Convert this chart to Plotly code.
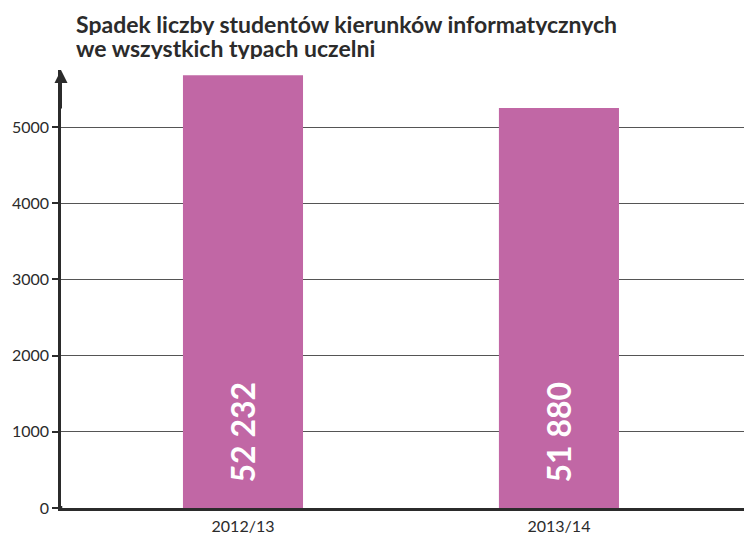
import plotly.graph_objects as go

# data
years = ["2012/13", "2013/14"]
bar_height = [5680, 5250]
bar_labels = ["52 232", "51 880"]
ytick_vals = [0, 1000, 2000, 3000, 4000, 5000]

title_lines = ["Spadek liczby studentów kierunków informatycznych", "we wszystkich typach uczelni"]
bar_col = "#C167A5"
ink = "#2b2b2b"

# page body adds an 8px margin, so the figure is 8px smaller than the window
fig = go.Figure()
fig.add_trace(go.Bar(x=years, y=bar_height, width=0.38,
                     marker=dict(color=bar_col, line=dict(width=0)),
                     hoverinfo="skip"))

# rotated white labels sitting near the bottom of each bar
for yr, lab in zip(years, bar_labels):
    fig.add_annotation(x=yr, y=0, xref="x", yref="y", text="<b>" + lab + "</b>",
                       textangle=-90, showarrow=False, xanchor="center", yanchor="bottom",
                       yshift=24, font=dict(family="Lato", size=32, color="white"))

# two title lines, tighter than plotly's own line spacing
for ty, line in zip([1.106, 1.052], title_lines):
    fig.add_annotation(x=0, y=ty, xref="paper", yref="paper", text="<b>" + line + "</b>",
                       showarrow=False, xanchor="left", yanchor="middle", xshift=14,
                       height=23, borderpad=0,
                       font=dict(family="Lato", size=23, color=ink))

# arrow on top of the y axis
fig.add_annotation(x=0, y=1, xref="paper", yref="paper", text="", showarrow=True,
                   ax=0, ay=40, axref="pixel", ayref="pixel", arrowhead=2, arrowsize=1.3,
                   arrowwidth=2, arrowcolor=ink)
# little stub of the y axis under the x axis
fig.add_shape(type="line", xref="paper", yref="y", x0=0, x1=0, y0=2, y1=-8,
              ysizemode="pixel", yanchor=0, line=dict(color=ink, width=2.5))

fig.update_layout(
    width=744, height=528,
    margin=dict(l=53, r=0, t=62, b=28),
    plot_bgcolor="white", paper_bgcolor="white",
    showlegend=False,
    font=dict(family="Lato", color=ink, size=16),
    xaxis=dict(range=[-0.576, 1.611], showline=True, linecolor=ink, linewidth=2.5,
               ticks="", showgrid=False, tickfont=dict(size=16, color=ink),
               ticklabelstandoff=2, automargin=False),
    yaxis=dict(range=[0, 5748], tickvals=ytick_vals, showgrid=True, gridcolor="#555555",
               gridwidth=1, showline=True, linecolor=ink, linewidth=2.5,
               ticks="outside", ticklen=6, tickwidth=1.5, tickcolor=ink,
               zeroline=False, tickfont=dict(size=16, color=ink), automargin=False),
)

fig.write_html("out.html")
